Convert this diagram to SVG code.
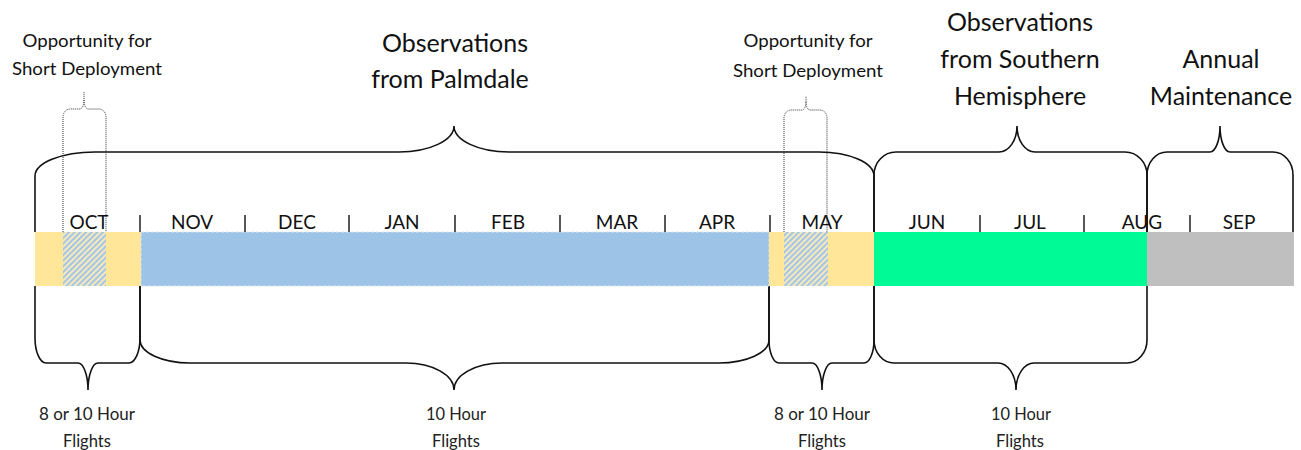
<svg xmlns="http://www.w3.org/2000/svg" width="1301" height="450" viewBox="0 0 1301 450">
<style>
  .t { font-family: Lato, "Liberation Sans", sans-serif; fill: #111; text-anchor: middle; }
  .big { font-size: 25px; }
  .mon { font-size: 19px; }
  .opp { font-size: 17.5px; }
  .bot { font-size: 16.8px; fill: #222; }
  .brace { fill: none; stroke: #111; stroke-width: 1.6; }
  .dot { fill: none; stroke: #333; stroke-width: 1; stroke-dasharray: 1 1; }
  .tick { stroke: #111; stroke-width: 1.4; }
</style>
<defs>
  <pattern id="hatch" patternUnits="userSpaceOnUse" width="4" height="4" patternTransform="rotate(45)">
    <rect width="4" height="4" fill="#F4E8C0"/>
    <line x1="1" y1="0" x2="1" y2="4" stroke="#9DC3E6" stroke-width="1.8"/>
  </pattern>
</defs>

<g id="connectors">
  <!-- top braces -->
  <path class="brace" d="M35,232 V176 A60,24 0 0 1 95,152 H399 A55,26 0 0 0 454,126 A55,26 0 0 0 509,152 H819 A55,24 0 0 1 874,176 V232"/>
  <path class="brace" d="M874,232 V175 A22,23 0 0 1 896,152 H999 A18,26 0 0 0 1017,126 A18,26 0 0 0 1035,152 H1125 A22,23 0 0 1 1147,175 V232"/>
  <path class="brace" d="M1147,232 V175 A20,23 0 0 1 1167,152 H1210 A10,26 0 0 0 1220,126 A10,26 0 0 0 1230,152 H1273 A20,23 0 0 1 1293,175 V232"/>
  <!-- bottom braces -->
  <path class="brace" d="M35,286 V338 A11,25 0 0 0 46,363 H78 A10,27 0 0 1 88,390 A10,27 0 0 1 98,363 H129 A11,25 0 0 0 140,338 V286"/>
  <path class="brace" d="M140,286 V340 A50,23 0 0 0 190,363 H406 A48,27 0 0 1 454,390 A48,27 0 0 1 502,363 H719 A50,23 0 0 0 769,340 V286"/>
  <path class="brace" d="M769,286 V340 A10,23 0 0 0 779,363 H812 A10,27 0 0 1 822,390 A10,27 0 0 1 832,363 H864 A10,23 0 0 0 874,340 V286"/>
  <path class="brace" d="M874,286 V340 A20,23 0 0 0 894,363 H998 A18,27 0 0 1 1016,390 A18,27 0 0 1 1034,363 H1127 A20,23 0 0 0 1147,340 V286"/>
  <!-- dotted braces -->
  <path class="dot" d="M63,232 V117 A7,8 0 0 1 70,109 H80 A4,9 0 0 0 84,100 V92 M84,100 A4,9 0 0 0 88,109 H99 A7,8 0 0 1 106,117 V232"/>
  <path class="dot" d="M784,232 V118 A7,8 0 0 1 791,110 H802 A4,8 0 0 0 806,102 V96 M806,102 A4,8 0 0 0 810,110 H820 A7,8 0 0 1 827,118 V232"/>
</g>

<g id="timeline">
  <rect x="35" y="232" width="106" height="54" fill="#FFE699"/>
  <rect x="63" y="232" width="43" height="54" fill="url(#hatch)"/>
  <rect x="141" y="232" width="628" height="54" fill="#9DC3E6" stroke="#DCE6F2" stroke-width="1" stroke-dasharray="3 2"/>
  <rect x="769" y="232" width="105" height="54" fill="#FFE699"/>
  <rect x="784" y="232" width="44" height="54" fill="url(#hatch)"/>
  <rect x="874" y="232" width="273" height="54" fill="#00FA96"/>
  <rect x="1147" y="232" width="147" height="54" fill="#BFBFBF"/>
</g>

<g id="ticks">
  <line class="tick" x1="140" y1="215" x2="140" y2="232"/>
  <line class="tick" x1="245" y1="215" x2="245" y2="232"/>
  <line class="tick" x1="349" y1="215" x2="349" y2="232"/>
  <line class="tick" x1="455" y1="215" x2="455" y2="232"/>
  <line class="tick" x1="560" y1="215" x2="560" y2="232"/>
  <line class="tick" x1="665" y1="215" x2="665" y2="232"/>
  <line class="tick" x1="770" y1="215" x2="770" y2="232"/>
  <line class="tick" x1="980" y1="215" x2="980" y2="232"/>
  <line class="tick" x1="1084" y1="215" x2="1084" y2="232"/>
  <line class="tick" x1="1190" y1="215" x2="1190" y2="232"/>
</g>

<g id="months">
  <text class="t mon" x="89" y="229">OCT</text>
  <text class="t mon" x="192" y="229">NOV</text>
  <text class="t mon" x="297" y="229">DEC</text>
  <text class="t mon" x="402" y="229">JAN</text>
  <text class="t mon" x="508" y="229">FEB</text>
  <text class="t mon" x="617" y="229">MAR</text>
  <text class="t mon" x="717" y="229">APR</text>
  <text class="t mon" x="822" y="229">MAY</text>
  <text class="t mon" x="927" y="229">JUN</text>
  <text class="t mon" x="1030" y="229">JUL</text>
  <text class="t mon" x="1142" y="229">AUG</text>
  <text class="t mon" x="1239" y="229">SEP</text>
</g>

<g id="opp-oct">
  <text class="t opp" x="87" y="47" textLength="129" lengthAdjust="spacingAndGlyphs">Opportunity for</text>
  <text class="t opp" x="87" y="75" textLength="150" lengthAdjust="spacingAndGlyphs">Short Deployment</text>
</g>
<g id="opp-may">
  <text class="t opp" x="808" y="47" textLength="129" lengthAdjust="spacingAndGlyphs">Opportunity for</text>
  <text class="t opp" x="808" y="77" textLength="150" lengthAdjust="spacingAndGlyphs">Short Deployment</text>
</g>
<g id="palmdale">
  <text class="t big" x="455" y="52">Observations</text>
  <text class="t big" x="450" y="88">from Palmdale</text>
</g>
<g id="southern">
  <text class="t big" x="1020" y="31">Observations</text>
  <text class="t big" x="1020" y="68">from Southern</text>
  <text class="t big" x="1020" y="105">Hemisphere</text>
</g>
<g id="maintenance">
  <text class="t big" x="1221" y="68">Annual</text>
  <text class="t big" x="1221" y="105">Maintenance</text>
</g>
<g id="flights-oct">
  <text class="t bot" x="87" y="420" textLength="96" lengthAdjust="spacingAndGlyphs">8 or 10 Hour</text>
  <text class="t bot" x="87" y="447" textLength="48" lengthAdjust="spacingAndGlyphs">Flights</text>
</g>
<g id="flights-palmdale">
  <text class="t bot" x="456" y="420" textLength="60" lengthAdjust="spacingAndGlyphs">10 Hour</text>
  <text class="t bot" x="456" y="447" textLength="48" lengthAdjust="spacingAndGlyphs">Flights</text>
</g>
<g id="flights-may">
  <text class="t bot" x="822" y="420" textLength="96" lengthAdjust="spacingAndGlyphs">8 or 10 Hour</text>
  <text class="t bot" x="822" y="447" textLength="48" lengthAdjust="spacingAndGlyphs">Flights</text>
</g>
<g id="flights-south">
  <text class="t bot" x="1021" y="420" textLength="60" lengthAdjust="spacingAndGlyphs">10 Hour</text>
  <text class="t bot" x="1020" y="447" textLength="48" lengthAdjust="spacingAndGlyphs">Flights</text>
</g>
</svg>
